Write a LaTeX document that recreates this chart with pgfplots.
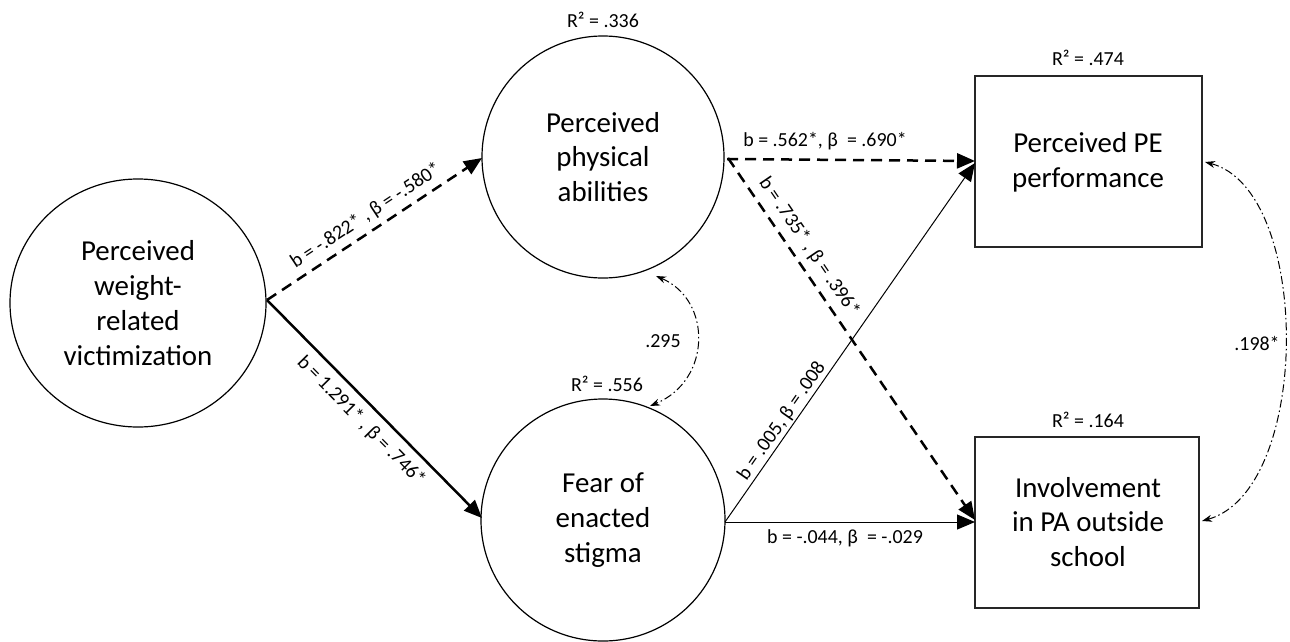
\documentclass[border=0pt]{standalone}
\usepackage{fontspec}
\setmainfont{Carlito}
\usepackage{pgfplots}
\pgfplotsset{compat=1.18}
\usetikzlibrary{arrows.meta}
\newcommand{\lab}{\fontsize{20}{24}\selectfont}
\newcommand{\bigtxt}{\fontsize{29}{35}\selectfont}
\begin{document}
\begin{tikzpicture}
\begin{axis}[
  width=1290bp, height=641bp, scale only axis,
  xmin=0, xmax=1290, ymin=0, ymax=641, y dir=reverse,
  axis lines=none, clip=false,
]
\path (axis cs:0,0) rectangle (axis cs:1290,641);
% latent variables (circles) and observed (boxes)
\draw[line width=1.2bp] (axis cs:138,303) ellipse [x radius=128bp, y radius=124bp];
\draw[line width=1.2bp] (axis cs:603,157) ellipse [x radius=121bp, y radius=121bp];
\draw[line width=1.2bp, overlay] (axis cs:603,520) ellipse [x radius=122bp, y radius=121bp];
\draw[line width=1.4bp, black!85] (axis cs:975,76) rectangle (axis cs:1202,247);
\draw[line width=1.4bp, black!85] (axis cs:975,437) rectangle (axis cs:1199,608);

\node[font=\bigtxt, align=center] at (axis cs:138,303) {Perceived\\weight-\\related\\victimization};
\node[font=\bigtxt, align=center] at (axis cs:603,157) {Perceived\\physical\\abilities};
\node[font=\bigtxt, align=center] at (axis cs:603,520) {Fear of\\enacted\\stigma};
\node[font=\bigtxt, align=center] at (axis cs:1088,162) {Perceived PE\\performance};
\node[font=\bigtxt, align=center] at (axis cs:1088,522) {Involvement\\in PA outside\\school};

% R squared
\node[font=\lab] at (axis cs:603,20) {R² = .336};
\node[font=\lab] at (axis cs:607,384) {R² = .556};
\node[font=\lab] at (axis cs:1088,58) {R² = .474};
\node[font=\lab] at (axis cs:1088,420) {R² = .164};

% paths
\addplot[black, mark=none, line width=2.5bp, dash pattern=on 11bp off 7bp, -{Triangle[length=18bp,width=15bp]}] coordinates {(267,300) (482,158)};
\addplot[black, mark=none, line width=2.5bp, -{Triangle[length=18bp,width=15bp]}] coordinates {(267,300) (482,518)};
\addplot[black, mark=none, line width=2.5bp, dash pattern=on 11bp off 7bp, -{Triangle[length=18bp,width=15bp]}] coordinates {(727,159) (975,161)};
\addplot[black, mark=none, line width=2.5bp, dash pattern=on 11bp off 7bp, -{Triangle[length=18bp,width=15bp]}] coordinates {(728,158) (975,520)};
\addplot[black, mark=none, line width=1bp, -{Triangle[length=18bp,width=15bp]}] coordinates {(725,522) (975,163)};
\addplot[black, mark=none, line width=1bp, -{Triangle[length=18bp,width=15bp]}] coordinates {(725,522) (975,522)};

% covariances
\draw[overlay, black, line width=1bp, dash pattern=on 8bp off 3bp on 1.5bp off 3bp,
  {Stealth[length=10bp,width=7bp]}-{Stealth[length=10bp,width=7bp]}]
  (axis cs:656,276) .. controls (axis cs:712,300) and (axis cs:712,380) .. (axis cs:650,406);
\draw[overlay, black, line width=1bp, dash pattern=on 8bp off 3bp on 1.5bp off 3bp,
  {Stealth[length=10bp,width=7bp]}-{Stealth[length=10bp,width=7bp]}]
  (axis cs:1205,162) .. controls (axis cs:1312,190) and (axis cs:1312,490) .. (axis cs:1202,521);

% coefficient labels
\node[font=\lab, rotate=33.4] at (axis cs:366,216) {b = -.822* , β = -.580*};
\node[font=\lab, rotate=-45.4] at (axis cs:361,421) {b = 1.291* , β = .746*};
\node[font=\lab] at (axis cs:825,141) {b = .562*, β\ \ = .690*};
\node[font=\lab, rotate=-55.7] at (axis cs:809,247) {b = .735* , β = .396*};
\node[font=\lab, rotate=55.2] at (axis cs:782,421) {b = .005, β = .008};
\node[font=\lab] at (axis cs:845,538) {b = -.044, β\ \ = -.029};
\node[font=\lab] at (axis cs:663,341) {.295};
\node[font=\lab] at (axis cs:1257,343) {.198*};
\end{axis}
\end{tikzpicture}
\end{document}
